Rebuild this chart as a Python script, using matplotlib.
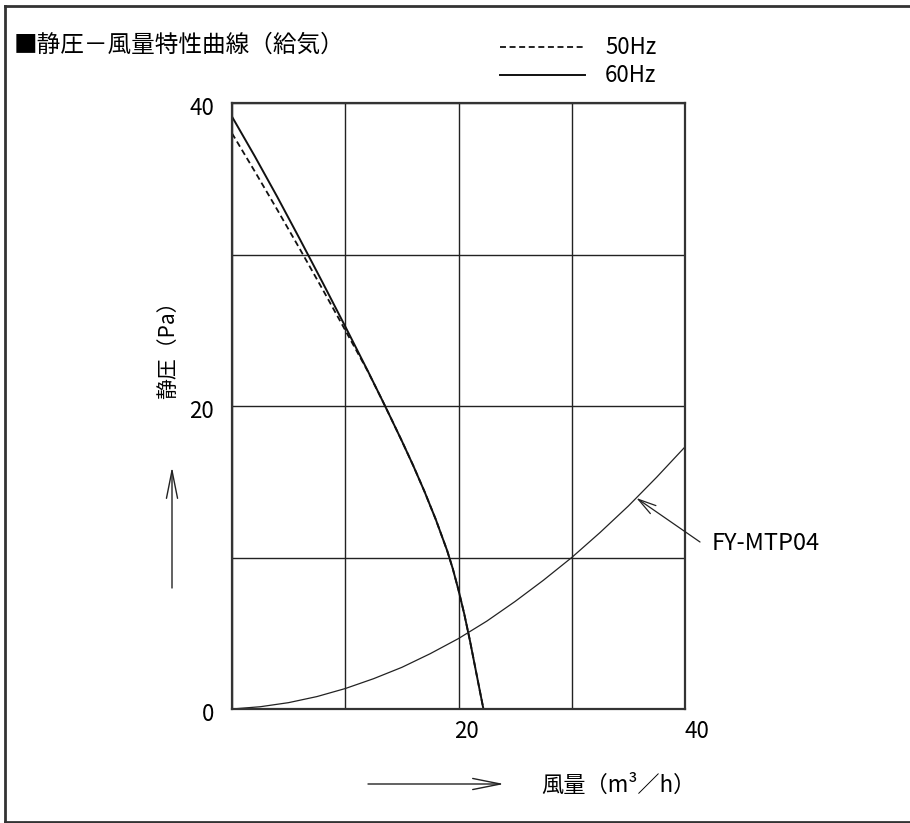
import matplotlib
matplotlib.use("Agg")
import matplotlib.pyplot as plt
from matplotlib.lines import Line2D
from matplotlib.patches import FancyArrowPatch
from matplotlib.transforms import ScaledTranslation

plt.rcParams["font.family"] = ["Noto Sans CJK JP", "DejaVu Sans"]
plt.rcParams["lines.scale_dashes"] = False

# 60Hz fan curve (solid)
flow_60 = [0, 2, 4, 6, 8, 10, 12, 13.3, 14, 15, 16, 17, 18, 19, 19.5, 20, 20.5, 21, 21.5, 22.2]
pres_60 = [39.1, 36.5, 33.8, 31.0, 28.15, 25.25, 22.3, 20.33, 19.25, 17.69, 16.07, 14.35, 12.5,
           10.45, 9.25, 7.85, 6.3, 4.55, 2.65, 0]

# 50Hz fan curve (dashed)
flow_50 = [0, 2, 4, 6, 8, 10, 12, 13.3, 14, 15, 16, 17, 18, 19, 19.5, 20, 20.5, 21, 21.5, 22.2]
pres_50 = [38.0, 35.5, 32.95, 30.35, 27.7, 25.0, 22.28, 20.33, 19.25, 17.69, 16.07, 14.35, 12.5,
           10.45, 9.25, 7.85, 6.3, 4.55, 2.65, 0]

# duct resistance curve FY-MTP04
flow_sys = [0, 2.5, 5, 7.5, 10, 12.5, 15, 17.5, 20, 22.5, 25, 27.5, 30, 32.5, 35, 37.5, 40]
pres_sys = [0, 0.15, 0.42, 0.82, 1.35, 2.0, 2.75, 3.65, 4.65, 5.8, 7.1, 8.5, 10.0, 11.65, 13.4,
            15.3, 17.3]

ticks = [0, 10, 20, 30, 40]
x_labels = ["", "", "20", "", "40"]
y_labels = ["0", "", "20", "", "40"]

W, H = 910, 823


def fx(px):
    return px / W


def fy(py):
    return 1 - py / H


fig = plt.figure(figsize=(9.1, 8.23), dpi=100)
ax = fig.add_axes([fx(232), fy(709), fx(685) - fx(232), fy(103) - fy(709)])

ax.plot(flow_60, pres_60, color="#111111", lw=1.4)
ax.plot(flow_50, pres_50, color="#111111", lw=1.3, dashes=(4.3, 2.6))
ax.plot(flow_sys, pres_sys, color="#222222", lw=0.9)

ax.set_xlim(0, 40)
ax.set_ylim(0, 40)
ax.set_xticks(ticks, x_labels, fontsize=16)
ax.set_yticks(ticks, y_labels, fontsize=16)
ax.tick_params(length=0)
ax.tick_params(axis="x", pad=8)
ax.tick_params(axis="y", pad=13)
ax.grid(True, color="#222222", lw=1.0)
for s in ax.spines.values():
    s.set_linewidth(1.6)
    s.set_color("#333333")

# small offsets so the tick labels sit like in the drawing
for lbl, dx in zip(ax.get_xticklabels(), [0, 0, 8, 0, 12]):
    lbl.set_transform(lbl.get_transform() + ScaledTranslation(dx / 100, 0, fig.dpi_scale_trans))
for lbl in ax.get_yticklabels():
    lbl.set_transform(lbl.get_transform() + ScaledTranslation(0, -3 / 100, fig.dpi_scale_trans))

# FY-MTP04 pointer
ax.annotate("", xy=(35.7, 13.93), xytext=(fx(700), fy(542)), textcoords="figure fraction",
            arrowprops=dict(arrowstyle="->,head_length=1.3,head_width=0.35", mutation_scale=10,
                            lw=0.9, color="#222222", shrinkA=0, shrinkB=0),
            annotation_clip=False)
fig.text(fx(712), fy(544), "FY-MTP04", fontsize=17, va="center", ha="left")

# title
fig.text(fx(14), fy(45), "■静圧－風量特性曲線（給気）", fontsize=17, va="center", ha="left")

# legend drawn by hand
fig.add_artist(Line2D([fx(500), fx(585)], [fy(47), fy(47)], color="#111111", lw=1.3, dashes=(4.3, 2.6)))
fig.add_artist(Line2D([fx(500), fx(585)], [fy(75), fy(75)], color="#111111", lw=1.4))
fig.text(fx(605), fy(47), "50Hz", fontsize=16, va="center", ha="left")
fig.text(fx(605), fy(75), "60Hz", fontsize=16, va="center", ha="left")

# axis labels with arrows
fig.text(fx(168), fy(345), "静圧（Pa）", fontsize=15, rotation=90, va="center", ha="center")
fig.text(fx(541), fy(785), "風量（m³／h）", fontsize=16, va="center", ha="left")
arrow_kw = dict(arrowstyle="->,head_length=2.0,head_width=0.4", mutation_scale=10, lw=1.0,
                color="#222222", shrinkA=0, shrinkB=0)
fig.add_artist(FancyArrowPatch((fx(172), fy(588)), (fx(172), fy(467)),
                               transform=fig.transFigure, **arrow_kw))
fig.add_artist(FancyArrowPatch((fx(368), fy(784)), (fx(504), fy(784)),
                               transform=fig.transFigure, **arrow_kw))

# outer frame (left, top, bottom)
frame_kw = dict(color="#333333", lw=2.0)
fig.add_artist(Line2D([fx(4.5), fx(4.5)], [fy(821.5), fy(5.5)], **frame_kw))
fig.add_artist(Line2D([fx(4.5), 1.0], [fy(5.5), fy(5.5)], **frame_kw))
fig.add_artist(Line2D([fx(4.5), 1.0], [fy(821.5), fy(821.5)], **frame_kw))

plt.savefig("out.png", dpi=100)
